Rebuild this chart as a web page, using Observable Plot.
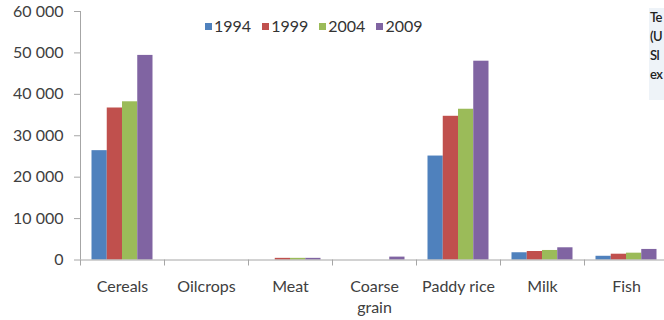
<!DOCTYPE html>
<html>
<head>
<meta charset="utf-8">
<script src="https://cdn.jsdelivr.net/npm/d3@7"></script>
<script src="https://cdn.jsdelivr.net/npm/@observablehq/plot@0.6"></script>
<style>
  html, body { margin: 0; padding: 0; background: #fff; }
  #chart { position: relative; width: 664px; height: 320px; overflow: hidden; font-family: Lato, "Open Sans", sans-serif; color: #404040; }
  #chart svg { position: absolute; left: 0; top: 0; }
  .legend { position: absolute; left: 205px; top: 17px; display: flex; align-items: center; font-size: 16px; line-height: 18px; color: #333; }
  .legend .item { display: flex; align-items: center; margin-right: 11px; }
  .legend .sw { width: 7px; height: 7px; margin-right: 2px; }
  .note { position: absolute; left: 649px; top: 8px; width: 15px; height: 92px; background: #eef3f8; font-size: 13px; font-weight: 600; line-height: 19px; letter-spacing: -0.6px; color: #222; padding-left: 1px; box-sizing: border-box; white-space: nowrap; }
</style>
</head>
<body>
<div id="chart"></div>
<script>
// Categories along the x axis
const categories = ["Cereals", "Oilcrops", "Meat", "Coarse\ngrain", "Paddy rice", "Milk", "Fish"];
// Series (one value per category)
const years = ["1994", "1999", "2004", "2009"];
const v1994 = [26400, 0, 0, 0, 25100, 1750, 900];
const v1999 = [36700, 0, 400, 0, 34700, 2050, 1400];
const v2004 = [38200, 0, 400, 0, 36400, 2300, 1650];
const v2009 = [49400, 0, 400, 700, 48000, 2950, 2550];
const colors = ["#4f81bd", "#c0504d", "#9bbb59", "#8064a2"];
const yTicks = [0, 10000, 20000, 30000, 40000, 50000, 60000];
// Side note text lines
const noteLines = ["Te", "(U", "Sl", "ex"];

const series = [v1994, v1999, v2004, v2009];
const rows = categories.flatMap((c, i) =>
  years.map((y, k) => ({ category: c, index: i, year: y, value: series[k][i] }))
);

// Position of each year's bar inside its category slot
const slot = d3.scaleBand(years, [0, 1]).paddingInner(0).paddingOuter(0.754);
const fmt = d => d3.format(",")(d).replace(/,/g, " ");
const axisColor = "#a6a6a6";

const chart = Plot.plot({
  width: 664,
  height: 320,
  marginTop: 11,
  marginBottom: 60.5,
  marginLeft: 80,
  marginRight: 0,
  style: { fontFamily: "Lato, 'Open Sans', sans-serif", fontSize: "16px", color: "#404040", background: "transparent", overflow: "visible" },
  x: { domain: [0, 7], range: [80, 668], axis: null },
  y: { domain: [0, 60000], axis: null },
  color: { domain: years, range: colors },
  marks: [
    Plot.rectY(rows, {
      x1: d => d.index + slot(d.year),
      x2: d => d.index + slot(d.year) + slot.bandwidth(),
      y: "value",
      fill: "year"
    }),
    Plot.ruleY([0], { stroke: axisColor }),
    Plot.ruleX([0], { stroke: axisColor }),
    Plot.axisY({ ticks: yTicks, tickSize: 6, tickPadding: 11, tickFormat: fmt, label: null, stroke: axisColor, fill: "#404040" }),
    Plot.axisX({ ticks: d3.range(categories.length + 1), tickSize: 6, tickFormat: () => "", label: null, stroke: axisColor }),
    Plot.text(categories, {
      x: (d, i) => i + 0.5,
      text: d => d,
      frameAnchor: "bottom",
      lineAnchor: "top",
      lineHeight: 1.3,
      dy: 17,
      fill: "#404040"
    })
  ]
});

const root = document.getElementById("chart");
root.appendChild(chart);

// Legend
const legend = document.createElement("div");
legend.className = "legend";
years.forEach((y, k) => {
  const item = document.createElement("div");
  item.className = "item";
  const sw = document.createElement("span");
  sw.className = "sw";
  sw.style.background = colors[k];
  const label = document.createElement("span");
  label.textContent = y;
  item.appendChild(sw);
  item.appendChild(label);
  legend.appendChild(item);
});
root.appendChild(legend);

// Side note
const note = document.createElement("div");
note.className = "note";
note.innerHTML = noteLines.map(t => `<div>${t}</div>`).join("");
root.appendChild(note);
</script>
</body>
</html>
